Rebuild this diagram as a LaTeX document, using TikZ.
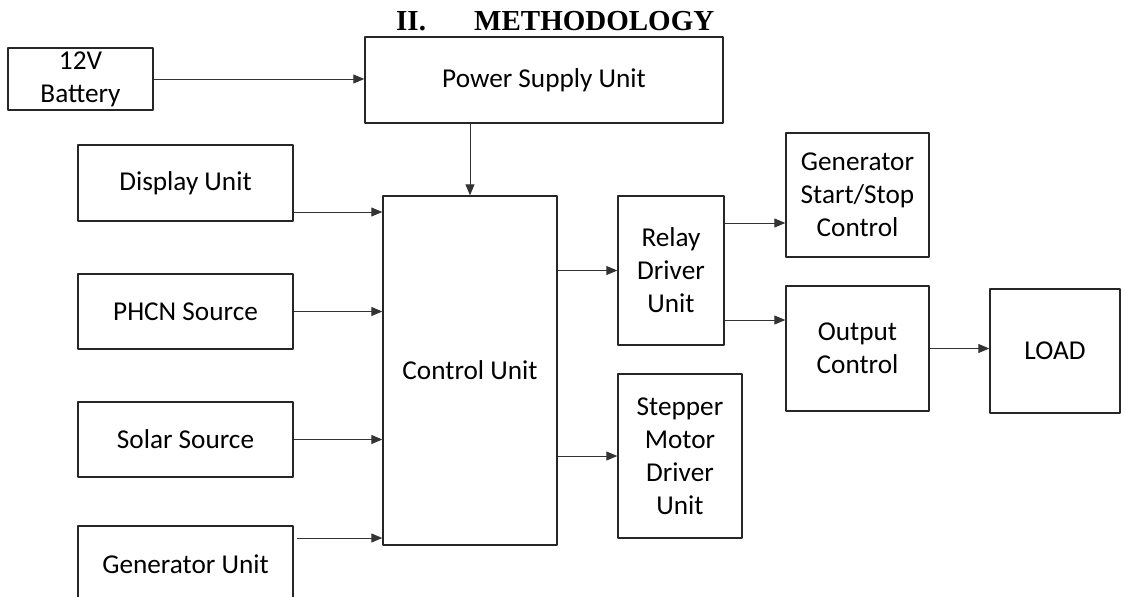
\documentclass[tikz,border=0pt]{standalone}
\usepackage{fontspec}
\setmainfont{Carlito}
\newfontfamily\titlefont{Liberation Serif}
\usetikzlibrary{arrows.meta}

\begin{document}
\begin{tikzpicture}[font=\fontsize{15.5}{18.8}\selectfont, line join=round, >={Triangle[length=2.2mm,width=1.8mm]},
	khoi/.style={draw=black!85, line width=0.8pt, align=center, inner sep=0pt},
	noi/.style={->, line width=0.55pt, draw=black!80, fill=black},
	tieude/.style={anchor=base west, font=\titlefont\bfseries\fontsize{16.5}{20}\selectfont}]
	\useasboundingbox (0,0) rectangle (22.52,-11.92);
	% Tiêu đề
	\node[tieude] (secnum) at (7.80,-0.60) {II.};
	\node[tieude] (sectitle) at (9.36,-0.60) {METHODOLOGY};
	
	% Các khối
	\node[khoi, minimum width=2.90cm, minimum height=1.24cm] (battery) at (1.61,-1.58) {12V\\Battery};
	\node[khoi, minimum width=7.16cm, minimum height=1.72cm] (psu) at (10.88,-1.60) {Power Supply Unit};
	\node[khoi, minimum width=4.30cm, minimum height=1.52cm] (display) at (3.71,-3.66) {Display Unit};
	\node[khoi, minimum width=4.30cm, minimum height=1.50cm] (phcn) at (3.71,-6.23) {PHCN Source};
	\node[khoi, minimum width=4.30cm, minimum height=1.50cm] (solar) at (3.71,-8.79) {Solar Source};
	\node[khoi, minimum width=4.30cm, minimum height=1.52cm] (genunit) at (3.71,-11.28) {Generator Unit};
	\node[khoi, minimum width=3.48cm, minimum height=6.98cm] (ctrl) at (9.40,-7.41) {Control Unit};
	\node[khoi, minimum width=2.12cm, minimum height=2.98cm] (relay) at (13.42,-5.41) {Relay\\Driver\\Unit};
	\node[khoi, minimum width=2.48cm, minimum height=3.28cm] (stepper) at (13.60,-9.12) {Stepper\\Motor\\Driver\\Unit};
	\node[khoi, minimum width=2.86cm, minimum height=2.48cm] (genctrl) at (17.15,-3.90) {Generator\\Start/Stop\\Control};
	\node[khoi, minimum width=2.86cm, minimum height=2.50cm] (outctrl) at (17.15,-6.97) {Output\\Control};
	\node[khoi, minimum width=2.60cm, minimum height=2.48cm] (load) at (21.10,-7.02) {LOAD};
	
	% Điểm ra lệch khỏi tâm
	\coordinate (dispout) at ([yshift=-0.58cm]display.east);
	\coordinate (genout) at ([xshift=0.06cm,yshift=0.52cm]genunit.east);
	\coordinate (relayup) at ([yshift=0.95cm]relay.east);
	\coordinate (relaydn) at ([yshift=-0.99cm]relay.east);
	
	% Mũi tên
	\draw[noi] (battery.east) -- (battery.east -| psu.west);
	\draw[noi] (psu.south -| ctrl.north) -- (ctrl.north);
	\draw[noi] (dispout) -- (dispout -| ctrl.west);
	\draw[noi] (phcn.east) -- (phcn.east -| ctrl.west);
	\draw[noi] (solar.east) -- (solar.east -| ctrl.west);
	\draw[noi] (genout) -- (genout -| ctrl.west);
	\draw[noi] (ctrl.east |- relay.west) -- (relay.west);
	\draw[noi] (ctrl.east |- stepper.west) -- (stepper.west);
	\draw[noi] (relayup) -- (relayup -| genctrl.west);
	\draw[noi] (relaydn) -- (relaydn -| outctrl.west);
	\draw[noi] (outctrl.east) -- (outctrl.east -| load.west);
\end{tikzpicture}
\end{document}
